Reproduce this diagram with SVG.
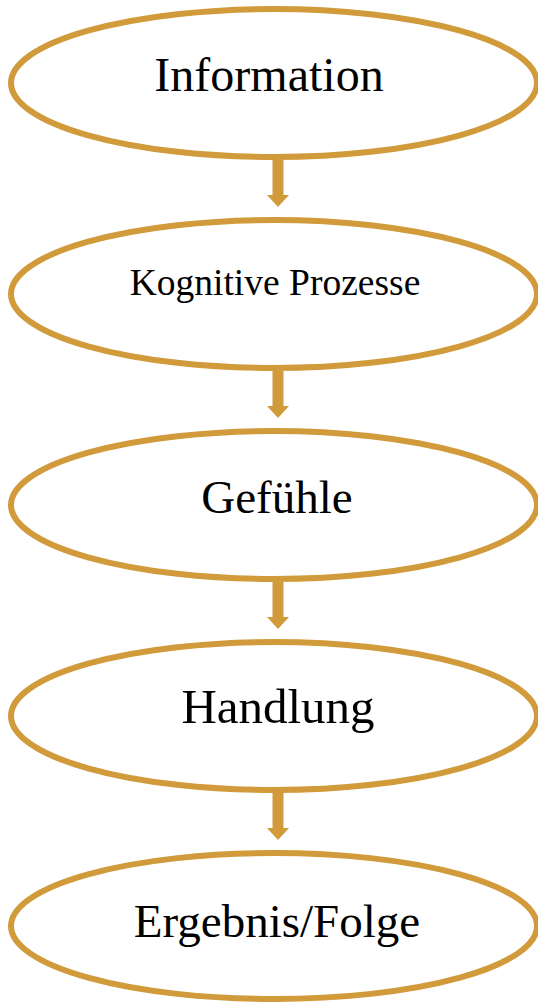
<svg xmlns="http://www.w3.org/2000/svg" width="538" height="1003" viewBox="0 0 538 1003">
<style>
.n{fill:#fff;stroke:#D19A3B;stroke-width:6}
.t{font-family:"Liberation Serif","Times New Roman",serif;fill:#000;text-anchor:middle}
.a{fill:#D19A3B}
</style>
<rect width="538" height="1003" fill="#fff"/>
<g id="connectors">
<polygon class="a" points="272.5,160 283.5,160 283.5,195 289,195 278,207 267,195 272.5,195"/>
<polygon class="a" points="272.5,371 283.5,371 283.5,406 289,406 278,418 267,406 272.5,406"/>
<polygon class="a" points="272.5,582 283.5,582 283.5,617 289,617 278,629 267,617 272.5,617"/>
<polygon class="a" points="272.5,792 283.5,792 283.5,828 289,828 278,840 267,828 272.5,828"/>
</g>
<g id="n1"><ellipse class="n" cx="274" cy="83" rx="263" ry="74"/><text class="t" x="269" y="91" font-size="48">Information</text></g>
<g id="n2"><ellipse class="n" cx="274" cy="294" rx="263" ry="74"/><text class="t" x="275" y="295" font-size="37.5">Kognitive Prozesse</text></g>
<g id="n3"><ellipse class="n" cx="274" cy="505" rx="263" ry="74"/><text class="t" x="277" y="513" font-size="47">Gefühle</text></g>
<g id="n4"><ellipse class="n" cx="274" cy="716" rx="263" ry="74"/><text class="t" x="278" y="723" font-size="49">Handlung</text></g>
<g id="n5"><ellipse class="n" cx="274" cy="926" rx="263" ry="73"/><text class="t" x="277" y="937" font-size="47">Ergebnis/Folge</text></g>
</svg>
